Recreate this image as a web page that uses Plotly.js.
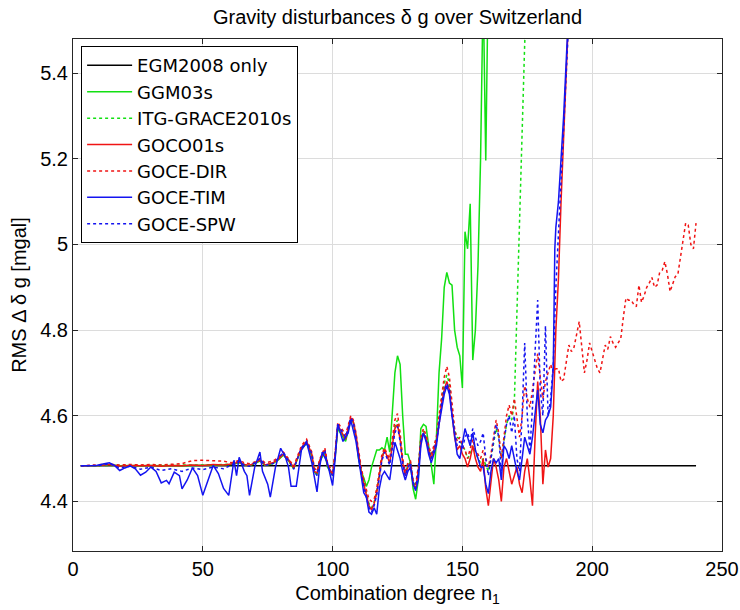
<!DOCTYPE html>
<html>
<head>
<meta charset="utf-8">
<script src="https://cdn.plot.ly/plotly-3.0.1.min.js"></script>
<style>
  html, body { margin: 0; padding: 0; background: #ffffff; }
  #chart { width: 740px; height: 610px; }
</style>
</head>
<body>
<div id="chart"></div>
<script>
// ---------- DATA ----------
const seriesNames = ["EGM2008 only", "GGM03s", "ITG-GRACE2010s", "GOCO01s", "GOCE-DIR", "GOCE-TIM", "GOCE-SPW"];

const egmX = [3, 240];
const egmY = [4.483, 4.483];

const ggmX = [3, 6, 10, 14, 18, 22, 26, 30, 34, 38, 42, 46, 50, 54, 58, 61, 64, 66, 68, 70, 72, 74, 77, 79, 81, 83, 85, 88, 90, 92, 93, 94, 95, 97, 98, 100,
  101, 102, 104, 105, 107, 108, 109, 110, 111, 112, 113, 114, 115, 116, 117, 118, 119, 120, 121, 122, 123, 124, 125, 126, 127, 128, 129, 130,
  131, 132, 133, 134, 135, 136, 137, 138, 139, 140, 141, 142, 143, 144, 145, 146, 147, 148, 149, 150, 151, 152, 153, 154, 155, 156, 157, 158, 159, 160, 161];
const ggmY = [4.483, 4.483, 4.484, 4.486, 4.483, 4.484, 4.483, 4.484, 4.483, 4.484, 4.483, 4.484, 4.484, 4.485, 4.485, 4.486, 4.49, 4.485, 4.483, 4.488, 4.494, 4.484, 4.488, 4.496, 4.508, 4.495, 4.476, 4.522, 4.535, 4.505, 4.468, 4.462, 4.492, 4.515, 4.48, 4.46,
  4.505, 4.57, 4.55, 4.54, 4.59, 4.585, 4.55, 4.5, 4.47, 4.455, 4.435, 4.45, 4.48, 4.5, 4.52, 4.52, 4.525, 4.52, 4.55, 4.515, 4.6, 4.7, 4.74, 4.72, 4.6, 4.51, 4.51, 4.49,
  4.43, 4.405, 4.45, 4.57, 4.58, 4.575, 4.53, 4.49, 4.44, 4.55, 4.7, 4.78, 4.9, 4.935, 4.91, 4.905, 4.8, 4.76, 4.74, 4.665, 5.03, 4.99, 5.095, 4.73, 4.8, 4.95, 5.2, 5.6, 5.196, 5.65, 5.8];

const itgX = [3, 10, 20, 30, 40, 50, 58, 61, 64, 66, 68, 70, 72, 74, 77, 79, 81, 83, 85, 88, 90, 92, 93, 94, 95, 97, 98, 100,
  101, 102, 104, 105, 107, 108, 109, 110, 111, 112, 113, 114, 115, 116, 117, 118, 119, 120, 121, 122, 123, 124, 125, 126, 127, 128, 129, 130,
  131, 132, 133, 134, 135, 136, 137, 138, 139, 140, 141, 142, 143, 144, 145, 146, 147, 148, 149, 150, 151, 152, 153, 154, 155, 156, 157, 158, 159, 160,
  161, 162, 163, 164, 165, 166, 167, 168, 169, 170, 171, 172, 173, 174, 175];
const itgY = [4.483, 4.484, 4.484, 4.484, 4.484, 4.485, 4.486, 4.487, 4.492, 4.486, 4.484, 4.49, 4.496, 4.485, 4.49, 4.498, 4.51, 4.497, 4.478, 4.524, 4.538, 4.508, 4.47, 4.464, 4.494, 4.518, 4.483, 4.462,
  4.508, 4.575, 4.555, 4.545, 4.592, 4.585, 4.552, 4.508, 4.47, 4.442, 4.418, 4.395, 4.385, 4.398, 4.425, 4.462, 4.502, 4.52, 4.506, 4.492, 4.535, 4.575, 4.59, 4.55, 4.495, 4.465, 4.485, 4.492,
  4.445, 4.435, 4.475, 4.545, 4.565, 4.55, 4.525, 4.505, 4.525, 4.545, 4.59, 4.64, 4.675, 4.695, 4.675, 4.61, 4.565, 4.55, 4.545, 4.53, 4.52, 4.5, 4.51, 4.53, 4.515, 4.5, 4.49, 4.5, 4.485, 4.47,
  4.5, 4.54, 4.57, 4.55, 4.5, 4.54, 4.58, 4.6, 4.59, 4.63, 4.85, 5.08, 5.31, 5.47, 5.6];

const gocoX = [3, 6, 10, 14, 18, 22, 26, 30, 34, 38, 42, 46, 50, 54, 58, 61, 64, 66, 68, 70, 72, 74, 77, 79, 81, 83, 85, 88, 90, 92, 93, 94, 95, 97, 98, 100,
  101, 102, 104, 105, 107, 108, 109, 110, 111, 112, 113, 114, 115, 116, 117, 118, 119, 120, 121, 122, 123, 124, 125, 126, 127, 128, 129, 130,
  131, 132, 133, 134, 135, 136, 137, 138, 139, 140, 141, 142, 143, 144, 145, 146, 147, 148, 149, 150, 151, 152, 153, 154, 155, 156, 157, 158, 159, 160,
  161, 162, 163, 164, 165, 166, 167, 168, 169, 170, 171, 172, 173, 174, 175, 176, 177, 178, 179, 180, 181, 182, 183, 184, 185, 186, 187, 188, 189, 190, 191, 192];
const gocoY = [4.483, 4.483, 4.484, 4.486, 4.482, 4.484, 4.483, 4.484, 4.482, 4.484, 4.483, 4.485, 4.484, 4.486, 4.485, 4.487, 4.492, 4.486, 4.484, 4.49, 4.496, 4.485, 4.49, 4.498, 4.51, 4.497, 4.478, 4.525, 4.54, 4.51, 4.47, 4.466, 4.495, 4.52, 4.485, 4.462,
  4.51, 4.578, 4.555, 4.545, 4.595, 4.585, 4.555, 4.51, 4.47, 4.44, 4.415, 4.39, 4.38, 4.395, 4.42, 4.46, 4.5, 4.52, 4.505, 4.49, 4.53, 4.57, 4.58, 4.545, 4.49, 4.46, 4.48, 4.49,
  4.44, 4.43, 4.47, 4.54, 4.56, 4.545, 4.52, 4.5, 4.52, 4.54, 4.58, 4.63, 4.66, 4.68, 4.66, 4.6, 4.55, 4.52, 4.53, 4.51, 4.5, 4.48, 4.5, 4.53, 4.5, 4.48, 4.47, 4.5, 4.43, 4.39,
  4.45, 4.5, 4.48, 4.45, 4.4, 4.48, 4.5, 4.47, 4.44, 4.46, 4.48, 4.44, 4.42, 4.47, 4.5, 4.45, 4.39, 4.55, 4.68, 4.6, 4.44, 4.52, 4.48, 4.5, 4.6, 4.8, 4.92, 5.1, 5.28, 5.42, 5.56, 5.7];

const dirX = [3, 6, 10, 14, 18, 22, 26, 30, 34, 38, 42, 44, 46, 50, 54, 58, 61, 64, 66, 68, 70, 72, 74, 77, 79, 81, 83, 85, 88, 90, 92, 93, 94, 95, 97, 98, 100,
  101, 102, 104, 105, 107, 108, 109, 110, 111, 112, 113, 114, 115, 116, 117, 118, 119, 120, 121, 122, 123, 124, 125, 126, 127, 128, 129, 130,
  131, 132, 133, 134, 135, 136, 137, 138, 139, 140, 141, 142, 143, 144, 145, 146, 147, 148, 149, 150, 151, 152, 153, 154, 155, 156, 157, 158, 159, 160,
  161, 162, 163, 164, 165, 166, 167, 168, 169, 170, 171, 172, 173, 174, 175, 176, 177, 178, 179, 180, 181, 182, 183, 184, 185, 186, 187, 188, 189, 190,
  191, 192, 193, 194, 195, 196, 197, 198, 199, 200, 201, 202, 203, 204, 205, 206, 207, 208, 209, 210, 211, 212, 213, 214, 215, 216, 217, 218, 219, 220,
  221, 222, 223, 224, 225, 226, 227, 228, 229, 230, 231, 232, 233, 234, 235, 236, 237, 238, 239, 240];
const dirY = [4.483, 4.484, 4.485, 4.487, 4.485, 4.486, 4.485, 4.486, 4.485, 4.487, 4.488, 4.492, 4.495, 4.496, 4.495, 4.494, 4.49, 4.496, 4.49, 4.488, 4.492, 4.5, 4.49, 4.494, 4.502, 4.515, 4.5, 4.482, 4.53, 4.545, 4.515, 4.478, 4.47, 4.498, 4.525, 4.49, 4.468,
  4.515, 4.585, 4.565, 4.555, 4.6, 4.59, 4.56, 4.515, 4.48, 4.45, 4.425, 4.405, 4.4, 4.405, 4.43, 4.47, 4.51, 4.525, 4.51, 4.5, 4.545, 4.59, 4.605, 4.56, 4.5, 4.47, 4.49, 4.495,
  4.45, 4.44, 4.48, 4.55, 4.57, 4.555, 4.53, 4.51, 4.53, 4.55, 4.6, 4.65, 4.69, 4.715, 4.69, 4.63, 4.57, 4.54, 4.55, 4.53, 4.52, 4.5, 4.52, 4.545, 4.52, 4.51, 4.5, 4.52, 4.5, 4.48,
  4.51, 4.55, 4.59, 4.56, 4.5, 4.55, 4.6, 4.625, 4.6, 4.64, 4.6, 4.55, 4.6, 4.67, 4.64, 4.62, 4.66, 4.7, 4.745, 4.69, 4.64, 4.68, 4.7, 4.72, 4.7, 4.71, 4.71, 4.68, 4.685, 4.73,
  4.765, 4.75, 4.76, 4.79, 4.82, 4.76, 4.7, 4.73, 4.77, 4.75, 4.73, 4.71, 4.7, 4.73, 4.765, 4.755, 4.785, 4.77, 4.76, 4.77, 4.78, 4.83, 4.875, 4.87, 4.87, 4.86, 4.855, 4.905, 4.865, 4.88,
  4.9, 4.91, 4.923, 4.9, 4.905, 4.935, 4.94, 4.96, 4.93, 4.89, 4.91, 4.925, 4.93, 4.97, 5.01, 5.05, 5.045, 5.0, 4.99, 5.05];

const timX = [3, 6, 9, 12, 14, 16, 18, 20, 22, 24, 26, 28, 30, 32, 34, 36, 37, 39, 41, 42, 44, 46, 48, 50, 52, 54, 56, 58, 60, 62, 63, 64, 66, 67, 68, 70, 72, 73, 75, 76, 78, 80,
  82, 83, 84, 86, 88, 90, 92, 94, 95, 96, 98, 100, 101, 102, 103, 104, 106, 107, 109, 111, 112, 113, 114, 115, 116, 117, 118, 119, 120, 122, 123, 124, 126, 127, 128, 129, 130,
  131, 132, 133, 134, 135, 136, 137, 138, 139, 140, 141, 142, 143, 144, 145, 146, 147, 148, 149, 150, 151, 152, 153, 154, 155, 156, 157, 158, 159, 160,
  161, 162, 163, 164, 165, 166, 167, 168, 169, 170, 171, 172, 173, 174, 175, 176, 177, 178, 179, 180, 181, 182, 183, 184, 185, 185.6, 186, 187, 188, 189, 190, 191];
const timY = [4.483, 4.483, 4.484, 4.488, 4.49, 4.484, 4.472, 4.478, 4.483, 4.476, 4.461, 4.468, 4.48, 4.47, 4.443, 4.449, 4.441, 4.468, 4.46, 4.429, 4.45, 4.478, 4.46, 4.414, 4.449, 4.484, 4.465, 4.43, 4.414, 4.496, 4.46, 4.503, 4.47, 4.46, 4.414, 4.48, 4.515, 4.47, 4.44, 4.41, 4.48, 4.524,
  4.5, 4.48, 4.435, 4.435, 4.52, 4.538, 4.49, 4.422, 4.48, 4.515, 4.49, 4.437, 4.5, 4.58, 4.56, 4.54, 4.56, 4.59, 4.54, 4.46, 4.42, 4.41, 4.375, 4.37, 4.385, 4.37, 4.43, 4.46, 4.47, 4.45, 4.49, 4.538, 4.5, 4.47, 4.45, 4.47, 4.48,
  4.44, 4.425, 4.45, 4.53, 4.56, 4.54, 4.51, 4.49, 4.51, 4.53, 4.58, 4.62, 4.65, 4.67, 4.65, 4.6, 4.55, 4.51, 4.5, 4.54, 4.57, 4.55, 4.53, 4.56, 4.52, 4.5, 4.48, 4.48, 4.44, 4.418,
  4.47, 4.5, 4.49, 4.5, 4.45, 4.53, 4.52, 4.5, 4.53, 4.5, 4.47, 4.45, 4.5, 4.55, 4.53, 4.51, 4.55, 4.6, 4.66, 4.58, 4.56, 4.59, 4.6, 4.62, 4.71, 4.99, 5.04, 5.1, 5.2, 5.3, 5.43, 5.56];

const spwX = [3, 6, 10, 14, 18, 22, 26, 30, 34, 38, 42, 46, 50, 54, 58, 61, 64, 66, 68, 70, 72, 74, 77, 79, 81, 83, 85, 88, 90, 92, 93, 94, 95, 97, 98, 100,
  101, 102, 104, 105, 107, 108, 109, 110, 111, 112, 113, 114, 115, 116, 117, 118, 119, 120, 121, 122, 123, 124, 125, 126, 127, 128, 129, 130,
  131, 132, 133, 134, 135, 136, 137, 138, 139, 140, 141, 142, 143, 144, 145, 146, 147, 148, 149, 150, 151, 152, 153, 154, 155, 156, 157, 158, 159, 160,
  161, 162, 163, 164, 165, 166, 167, 168, 169, 170, 171, 172, 173, 174, 175, 176, 177, 178, 179, 180, 181, 182, 183, 184, 185, 186, 187, 188, 189, 190, 191];
const spwY = [4.483, 4.483, 4.484, 4.488, 4.478, 4.482, 4.475, 4.48, 4.472, 4.476, 4.47, 4.478, 4.474, 4.48, 4.476, 4.485, 4.494, 4.484, 4.482, 4.49, 4.5, 4.484, 4.488, 4.5, 4.515, 4.495, 4.475, 4.525, 4.54, 4.51, 4.47, 4.46, 4.492, 4.52, 4.485, 4.46,
  4.51, 4.58, 4.56, 4.55, 4.595, 4.585, 4.55, 4.505, 4.465, 4.435, 4.41, 4.385, 4.375, 4.39, 4.415, 4.455, 4.495, 4.515, 4.5, 4.485, 4.525, 4.56, 4.575, 4.54, 4.49, 4.46, 4.48, 4.49,
  4.445, 4.43, 4.47, 4.54, 4.56, 4.545, 4.52, 4.5, 4.52, 4.54, 4.58, 4.63, 4.66, 4.675, 4.66, 4.6, 4.56, 4.53, 4.54, 4.52, 4.55, 4.56, 4.54, 4.57, 4.55, 4.53, 4.54, 4.56, 4.5, 4.46,
  4.5, 4.54, 4.58, 4.55, 4.47, 4.54, 4.58, 4.6, 4.56, 4.6, 4.5, 4.47, 4.6, 4.77, 4.6, 4.52, 4.62, 4.75, 4.87, 4.66, 4.6, 4.81, 4.6, 4.64, 4.72, 4.9, 5.04, 5.15, 5.27, 5.4, 5.53];

const xTickVals = [0, 50, 100, 150, 200, 250];
const xTickText = ["0", "50", "100", "150", "200", "250"];
const yTickVals = [4.4, 4.6, 4.8, 5.0, 5.2, 5.4];
const yTickText = ["4.4", "4.6", "4.8", "5", "5.2", "5.4"];

// ---------- STYLE ----------
const FONT = "'Liberation Sans', Arial, Helvetica, sans-serif";
const LEGFONT = "'DejaVu Sans', 'Liberation Sans', Arial, sans-serif";
const cBlack = "#000000", cGreen = "#12e012", cRed = "#f01414", cBlue = "#1414f0";

function tr(x, y, name, color, dash) {
  return { x: x, y: y, name: name, type: "scatter", mode: "lines",
           line: { color: color, width: 1.5, dash: dash } };
}

const data = [
  tr(egmX, egmY, seriesNames[0], cBlack, "solid"),
  tr(ggmX, ggmY, seriesNames[1], cGreen, "solid"),
  tr(itgX, itgY, seriesNames[2], cGreen, "dot"),
  tr(gocoX, gocoY, seriesNames[3], cRed, "solid"),
  tr(dirX, dirY, seriesNames[4], cRed, "dot"),
  tr(timX, timY, seriesNames[5], cBlue, "solid"),
  tr(spwX, spwY, seriesNames[6], cBlue, "dot")
];

const axisCommon = {
  showline: true, mirror: "ticks", linecolor: "#262626", linewidth: 1,
  ticks: "inside", ticklen: 5, tickcolor: "#262626", tickwidth: 1,
  showgrid: true, gridcolor: "#dcdcdc", gridwidth: 1,
  zeroline: false, tickfont: { family: FONT, size: 20, color: "#000" }
};

const layout = {
  width: 740, height: 610,
  paper_bgcolor: "#ffffff", plot_bgcolor: "#ffffff",
  margin: { l: 73, r: 18, t: 39, b: 59 },
  font: { family: FONT, size: 20, color: "#000" },
  title: { text: "Gravity disturbances \u03B4 g over Switzerland", font: { family: FONT, size: 20, color: "#000" },
           x: 0.5, xref: "paper", xanchor: "center", y: 0.972, yref: "container", yanchor: "middle" },
  xaxis: Object.assign({}, axisCommon, {
    range: [0, 250], tickvals: xTickVals, ticktext: xTickText,
    title: { text: "Combination degree n<sub>1</sub>", font: { family: FONT, size: 20, color: "#000" }, standoff: 6 }
  }),
  yaxis: Object.assign({}, axisCommon, {
    range: [4.284, 5.48], tickvals: yTickVals, ticktext: yTickText,
    title: { text: "RMS \u0394 \u03B4 g [mgal]", font: { family: FONT, size: 20, color: "#000" }, standoff: 8 }
  }),
  showlegend: true,
  legend: { x: 0.0125, y: 0.986, xanchor: "left", yanchor: "top",
            bgcolor: "#ffffff", bordercolor: "#000000", borderwidth: 1,
            font: { family: LEGFONT, size: 18, color: "#000" }, itemwidth: 45, tracegroupgap: 0 }
};

Plotly.newPlot("chart", data, layout, { displayModeBar: false, staticPlot: true });
</script>
</body>
</html>
